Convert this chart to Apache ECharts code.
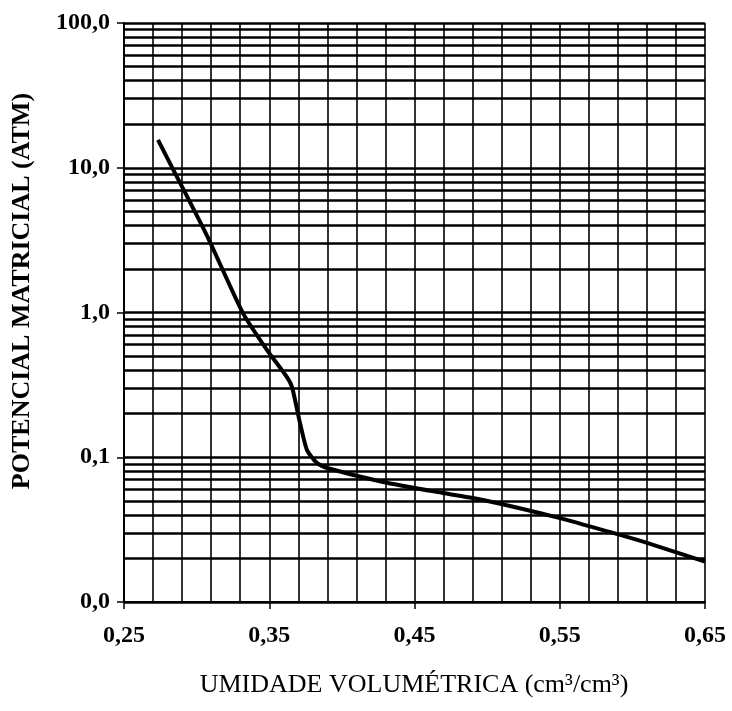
<!DOCTYPE html>
<html><head><meta charset="utf-8">
<script src="https://cdn.jsdelivr.net/npm/echarts@6/dist/echarts.min.js"></script>
<style>html,body{margin:0;padding:0;background:#fff}#c{width:732px;height:711px}</style>
</head><body><div id="c"></div>
<script>
const umidade   = [0.2734, 0.2830, 0.3071, 0.3319, 0.3485, 0.3622, 0.3657, 0.3712, 0.3760, 0.3829, 0.3898, 0.4283, 0.4696, 0.4972, 0.5502, 0.5867, 0.6101, 0.6500];
const potencial = [15.6,   10.1,   3.4,    0.99,   0.55,   0.358,  0.305,  0.172,  0.112,  0.0912, 0.0843, 0.0675, 0.0566, 0.0507, 0.0380, 0.0300, 0.0256, 0.0190];
const minorLevels = [0.02,0.03,0.04,0.05,0.06,0.07,0.08,0.09, 0.2,0.3,0.4,0.5,0.6,0.7,0.8,0.9, 2,3,4,5,6,7,8,9, 20,30,40,50,60,70,80,90];
const xMin = 0.25, xMax = 0.65, xGridStep = 0.02, xLabelStep = 0.1;
const yMin = 0.01, yMax = 100;
const yTitle = 'POTENCIAL MATRICIAL (ATM)';
const xTitle = 'UMIDADE VOLUMÉTRICA (cm³/cm³)';
const serif = '"Liberation Serif", "Times New Roman", serif';

function fmt1(v){ return v.toFixed(1).replace('.', ','); }
function fmt2(v){ return v.toFixed(2).replace('.', ','); }

const chart = echarts.init(document.getElementById('c'), null, {renderer: 'canvas'});
chart.setOption({
  animation: false,
  backgroundColor: '#fff',
  grid: {left: 124, right: 27, top: 23, bottom: 109},
  xAxis: [
    {
      type: 'value', min: xMin, max: xMax, interval: xGridStep,
      axisLine: {show: false}, axisTick: {show: false}, axisLabel: {show: false},
      splitLine: {show: true, lineStyle: {color: '#000', width: 1.6}}
    },
    {
      type: 'value', min: xMin, max: xMax, interval: xLabelStep, position: 'bottom',
      axisLine: {show: true, onZero: false, lineStyle: {color: '#000', width: 2}},
      axisTick: {show: true, inside: false, length: 7, lineStyle: {color: '#000', width: 1.5}},
      axisLabel: {show: true, formatter: fmt2, color: '#000', fontFamily: serif, fontWeight: 'bold', fontSize: 24, margin: 22},
      splitLine: {show: false}
    }
  ],
  yAxis: {
    type: 'log', logBase: 10, min: yMin, max: yMax,
    axisLine: {show: true, lineStyle: {color: '#000', width: 2}},
    axisTick: {show: true, inside: false, length: 7, lineStyle: {color: '#000', width: 1.5}},
    axisLabel: {formatter: fmt1, color: '#000', fontFamily: serif, fontWeight: 'bold', fontSize: 24, margin: 14},
    splitLine: {show: true, lineStyle: {color: '#000', width: 2.5}}
  },
  graphic: [
    {type: 'text', x: 22, y: 291, rotation: Math.PI / 2,
     style: {text: yTitle, fill: '#000', font: 'bold 26px ' + serif, textAlign: 'center', textVerticalAlign: 'middle'}},
    {type: 'text', x: 414, y: 685,
     style: {text: xTitle, fill: '#000', font: '26px ' + serif, textAlign: 'center', textVerticalAlign: 'middle'}}
  ],
  series: [{
    type: 'line', xAxisIndex: 1,
    data: umidade.map((x, i) => [x, potencial[i]]),
    showSymbol: false, smooth: 0.2,
    lineStyle: {color: '#000', width: 4},
    z: 5,
    markLine: {
      silent: true, symbol: ['none', 'none'], label: {show: false},
      lineStyle: {color: '#000', type: 'solid', width: 2.5},
      data: minorLevels.map(v => ({yAxis: v}))
    }
  }]
});
</script>
</body></html>
